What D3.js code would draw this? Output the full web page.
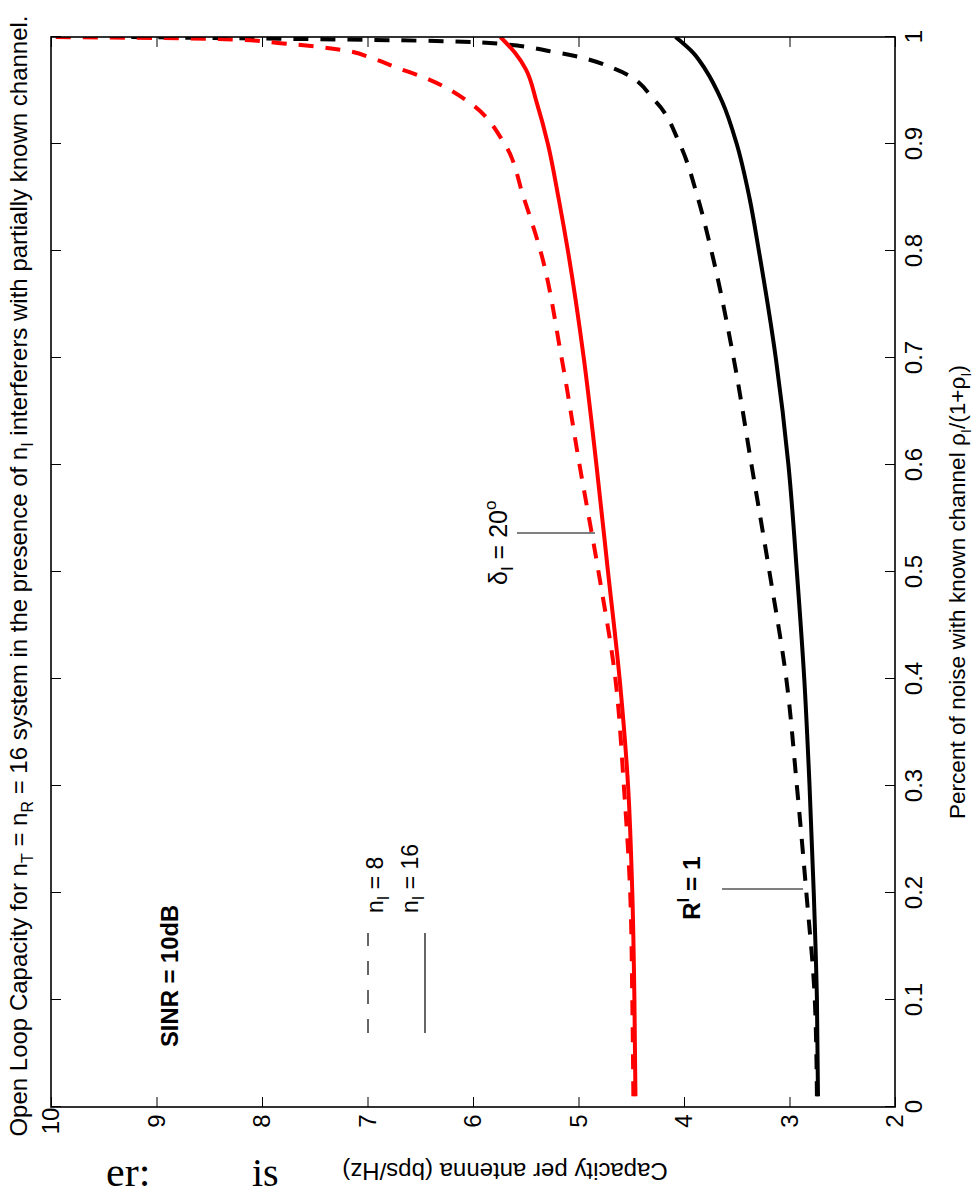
<!DOCTYPE html>
<html><head><meta charset="utf-8">
<script src="https://cdn.jsdelivr.net/npm/d3@7"></script>
<style>
body{margin:0;background:#fff}
svg{display:block}
text{font-family:"Liberation Sans",Arial,Helvetica,sans-serif;fill:#000}
text.serif{font-family:"Liberation Serif","DejaVu Serif",serif}
</style>
</head><body>
<svg id="c" width="977" height="1198"></svg>
<script>
// ---------- data ----------
const xTicks = [0,0.1,0.2,0.3,0.4,0.5,0.6,0.7,0.8,0.9,1];
const yTicks = [2,3,4,5,6,7,8,9,10];

const xSolid = [0.01,0.1,0.2,0.3,0.4,0.5,0.6,0.7,0.8,0.85,0.9,0.94,0.97,0.985,1.0];
const blackSolid = [2.73,2.74,2.77,2.81,2.86,2.93,3.01,3.13,3.29,3.38,3.50,3.64,3.80,3.91,4.08];
const redSolid   = [4.46,4.47,4.49,4.53,4.61,4.72,4.83,4.95,5.10,5.19,5.29,5.40,5.50,5.60,5.74];

const xBlackDashed = [0.01,0.1,0.2,0.3,0.4,0.5,0.6,0.7,0.8,0.85,0.9,0.94,0.97,0.985,0.995,1.0];
const blackDashed  = [2.74,2.76,2.84,2.93,3.03,3.19,3.36,3.53,3.74,3.87,4.04,4.27,4.65,5.18,5.93,9.30];

const xRedDashed = [0.01,0.1,0.2,0.3,0.4,0.5,0.6,0.7,0.8,0.85,0.9,0.94,0.96,0.972,0.98,0.988,0.994,0.998,1.0];
const redDashed  = [4.48,4.49,4.51,4.57,4.65,4.81,4.99,5.16,5.36,5.52,5.70,6.05,6.41,6.74,6.95,7.25,7.80,8.35,10.0];

// ---------- layout (chart drawn unrotated, then turned -90deg) ----------
const W = 977, H = 1198;
const svg = d3.select("#c");
const g = svg.append("g").attr("transform", `translate(0,${H}) rotate(-90)`);

const x = d3.scaleLinear().domain([0,1]).range([91,1161]);
const y = d3.scaleLinear().domain([2,10]).range([895,51]);
const fmt = d3.format("~g");
const FS = 24;

// clip
g.append("clipPath").attr("id","clip").append("rect")
  .attr("x",x(0)).attr("y",y(10)).attr("width",x(1)-x(0)).attr("height",y(2)-y(10));

// axes
const xa = g.append("g").attr("transform",`translate(0,${y(2)})`)
  .call(d3.axisBottom(x).tickValues(xTicks).tickFormat(fmt).tickSizeInner(-10).tickSizeOuter(0).tickPadding(10));
const xt = g.append("g").attr("transform",`translate(0,${y(10)})`)
  .call(d3.axisTop(x).tickValues(xTicks).tickFormat("").tickSizeInner(-10).tickSizeOuter(0));
const ya = g.append("g").attr("transform",`translate(${x(0)},0)`)
  .call(d3.axisLeft(y).tickValues(yTicks).tickFormat(fmt).tickSizeInner(-10).tickSizeOuter(0).tickPadding(14));
const yr = g.append("g").attr("transform",`translate(${x(1)},0)`)
  .call(d3.axisRight(y).tickValues(yTicks).tickFormat("").tickSizeInner(-10).tickSizeOuter(0));
[xa,xt,ya,yr].forEach(a=>{
  a.select(".domain").remove();
  a.selectAll(".tick line").attr("stroke","#000").attr("stroke-width",1);
  a.selectAll("text").attr("font-size",FS).attr("font-family",null).attr("fill","#000");
});
ya.selectAll("text").attr("text-anchor","middle").attr("x",-(x(0)-77));

// curves
const line = d3.line().x(d=>x(d[0])).y(d=>y(d[1])).curve(d3.curveMonotoneX);
const curves = g.append("g").attr("clip-path","url(#clip)");
function draw(xs, ys, color, dashed){
  curves.append("path").datum(xs.map((v,i)=>[v,ys[i]]))
    .attr("d",line).attr("fill","none").attr("stroke",color).attr("stroke-width",4)
    .attr("stroke-dasharray",dashed?"15,12":null);
}
draw(xBlackDashed, blackDashed, "#000", true);
draw(xSolid, blackSolid, "#000", false);
draw(xRedDashed, redDashed, "#ff0000", true);
draw(xSolid, redSolid, "#ff0000", false);

// box
g.append("rect").attr("x",x(0)).attr("y",y(10)).attr("width",x(1)-x(0)).attr("height",y(2)-y(10))
  .attr("fill","none").attr("stroke","#000").attr("stroke-width",1.6);

// title
const title = g.append("text").attr("x",622).attr("y",27).attr("text-anchor","middle").attr("font-size",24);
function sub(t, s, fs){ t.append("tspan").attr("font-size",fs||16).attr("dy",6).text(s); }
title.append("tspan").text("Open Loop Capacity for n");
sub(title,"T");
title.append("tspan").attr("dy",-6).text(" = n");
sub(title,"R");
title.append("tspan").attr("dy",-6).text(" = 16 system in the presence of n");
sub(title,"I");
title.append("tspan").attr("dy",-6).text(" interferers with partially known channel.");

// x label
const xl = g.append("text").attr("x",606).attr("y",965).attr("text-anchor","middle").attr("font-size",22.6);
xl.append("tspan").text("Percent of noise with known channel \u03C1");
xl.append("tspan").attr("font-size",15).attr("dy",6).text("I");
xl.append("tspan").attr("dy",-6).text("/(1+\u03C1");
xl.append("tspan").attr("font-size",15).attr("dy",6).text("I");
xl.append("tspan").attr("dy",-6).text(")");

// y label
g.append("text").attr("transform","translate(35,505) rotate(-90)").attr("text-anchor","middle")
  .attr("font-size",24).text("Capacity per antenna (bps/Hz)");

// annotations
g.append("text").attr("x",151).attr("y",178).attr("font-size",23.8).attr("font-weight","bold").text("SINR = 10dB");
g.append("line").attr("x1",165).attr("x2",265).attr("y1",368).attr("y2",368).attr("stroke","#000").attr("stroke-width",1.2).attr("stroke-dasharray","14,15");
g.append("line").attr("x1",165).attr("x2",265).attr("y1",425).attr("y2",425).attr("stroke","#000").attr("stroke-width",1.2);
function nlab(v, val){
  const t = g.append("text").attr("x",285).attr("y",v).attr("font-size",23);
  t.append("tspan").text("n");
  t.append("tspan").attr("font-size",16).attr("dy",6).text("I");
  t.append("tspan").attr("dy",-6).text(" = "+val);
}
nlab(383,"8");
nlab(418,"16");

const dl = g.append("text").attr("x",613).attr("y",507).attr("font-size",25);
dl.append("tspan").text("\u03B4");
dl.append("tspan").attr("font-size",17).attr("dy",6).text("I");
dl.append("tspan").attr("dy",-6).text(" = 20");
dl.append("tspan").attr("font-size",17).attr("dy",-11).text("o");
g.append("line").attr("x1",665).attr("x2",665).attr("y1",517).attr("y2",595).attr("stroke","#000").attr("stroke-width",1);

const rl = g.append("text").attr("x",278).attr("y",700).attr("font-size",24.5).attr("font-weight","bold");
rl.append("tspan").text("R");
rl.append("tspan").attr("font-size",16).attr("dy",-11).text("I");
rl.append("tspan").attr("dy",11).text(" = 1");
g.append("line").attr("x1",309).attr("x2",309).attr("y1",722).attr("y2",803).attr("stroke","#000").attr("stroke-width",1);

// page fragments below the figure
svg.append("text").attr("class","serif").attr("x",106).attr("y",1186).attr("font-size",42).text("er:");
svg.append("text").attr("class","serif").attr("x",252).attr("y",1186).attr("font-size",40).text("is");
</script>
</body></html>
